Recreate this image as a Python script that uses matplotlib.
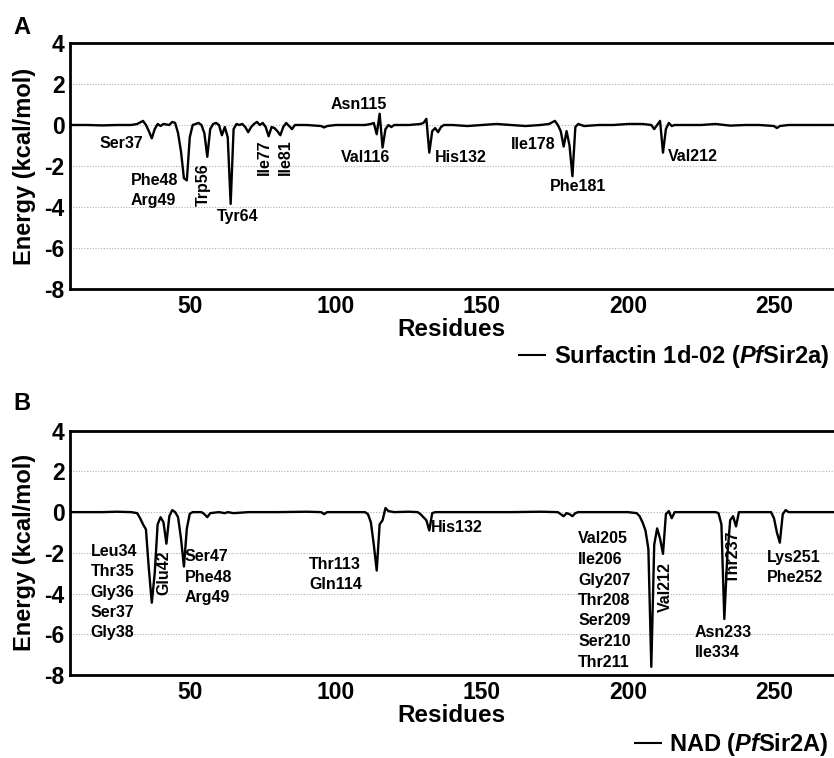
import matplotlib
matplotlib.use("Agg")
import matplotlib.pyplot as plt
from matplotlib.lines import Line2D

plt.rcParams["font.family"] = ["Liberation Sans", "DejaVu Sans"]
plt.rcParams["font.weight"] = "bold"
plt.rcParams["axes.unicode_minus"] = False
plt.rcParams["mathtext.fontset"] = "custom"
plt.rcParams["mathtext.rm"] = "Liberation Sans:bold"
plt.rcParams["mathtext.it"] = "Liberation Sans:italic:bold"
plt.rcParams["mathtext.bf"] = "Liberation Sans:bold"

# Panel A: Surfactin 1d-02 (PfSir2a) per-residue energy
res_a = [9, 15, 20, 25, 30, 32, 34, 35, 36, 37, 38, 39, 40, 41, 43, 44, 45, 46,
         47, 48, 49, 50, 51, 52, 53, 54, 55, 56, 57, 58, 59, 60, 61, 62, 63, 64,
         65, 66, 67, 68, 69, 70, 71, 72, 73, 74, 75, 76, 77, 78, 79, 80, 81, 82,
         83, 84, 85, 86, 90, 95, 96, 97, 100, 105, 110, 112, 113, 114, 115, 116,
         117, 118, 119, 120, 125, 129, 130, 131, 132, 133, 134, 135, 136, 137,
         140, 145, 150, 155, 160, 165, 170, 173, 175, 176, 177, 178, 179, 180,
         181, 182, 183, 185, 190, 195, 200, 205, 208, 209, 210, 211, 212, 213,
         214, 215, 216, 220, 225, 230, 235, 240, 245, 250, 251, 252, 255, 260,
         265, 273]
e_a = [0.0, 0.0, -0.02, 0.0, 0.0, 0.05, 0.2, 0.0, -0.3, -0.65, -0.2, 0.05,
       -0.05, 0.05, 0.0, 0.15, 0.1, -0.4, -1.3, -2.6, -2.7, -0.6, 0.0, 0.05,
       0.1, 0.0, -0.4, -1.55, -0.2, 0.05, 0.1, 0.0, -0.5, -0.1, -0.6, -3.85,
       -0.2, 0.05, 0.0, 0.05, -0.1, -0.35, -0.1, 0.05, 0.15, 0.0, 0.1, -0.1,
       -0.55, -0.1, -0.15, -0.3, -0.5, -0.1, 0.1, -0.05, -0.2, 0.0, 0.0, -0.05,
       -0.12, -0.05, 0.0, 0.0, 0.0, 0.05, 0.1, -0.45, 0.55, -1.1, -0.2, 0.0,
       -0.1, 0.0, 0.0, 0.05, 0.1, 0.3, -1.35, -0.3, -0.15, -0.35, -0.1, 0.0,
       0.0, -0.05, 0.0, 0.05, 0.0, -0.05, 0.0, 0.05, 0.2, 0.0, -0.3, -1.05,
       -0.3, -1.0, -2.5, -0.1, 0.05, -0.05, 0.0, 0.0, 0.05, 0.05, 0.0, -0.2,
       0.0, 0.2, -1.35, -0.2, 0.1, -0.05, 0.0, 0.0, 0.0, 0.05, -0.03, 0.0, 0.0,
       -0.05, -0.15, -0.05, 0.0, 0.0, 0.0, 0.0]

# Panel B: NAD (PfSir2A)
res_b = [9, 15, 20, 25, 30, 32, 33, 34, 35, 36, 37, 38, 39, 40, 41, 42, 43, 44,
         45, 46, 47, 48, 49, 50, 51, 54, 55, 56, 57, 60, 62, 63, 65, 70, 80, 90,
         95, 96, 97, 100, 105, 110, 111, 112, 113, 114, 115, 116, 117, 118, 120,
         125, 128, 129, 130, 131, 132, 133, 134, 140, 150, 160, 170, 176, 177,
         178, 179, 180, 181, 182, 183, 190, 200, 203, 204, 205, 206, 207, 208,
         209, 210, 211, 212, 213, 214, 215, 216, 220, 225, 230, 231, 232, 233,
         234, 235, 236, 237, 238, 240, 245, 249, 250, 251, 252, 253, 254, 255,
         260, 265, 273]
e_b = [0.0, 0.0, 0.0, 0.02, 0.0, -0.05, -0.3, -0.6, -0.85, -2.8, -4.45, -3.0,
       -0.6, -0.25, -0.5, -1.55, -0.2, 0.1, 0.0, -0.25, -1.3, -2.67, -0.8,
       -0.08, 0.0, 0.0, -0.1, -0.25, -0.05, 0.0, -0.05, 0.0, -0.05, 0.0, 0.0,
       0.02, 0.0, -0.1, 0.0, 0.0, 0.0, 0.0, -0.1, -0.5, -1.6, -2.87, -0.6,
       -0.4, 0.2, 0.05, 0.0, 0.02, 0.0, -0.1, -0.25, -0.4, -0.9, -0.05, 0.0,
       0.0, 0.0, 0.0, 0.02, 0.0, -0.1, -0.2, -0.05, -0.1, -0.2, -0.05, 0.0,
       0.0, 0.0, -0.05, -0.2, -0.5, -0.9, -1.8, -7.6, -1.6, -0.8, -1.3, -2.05,
       -0.1, 0.05, -0.3, 0.0, 0.0, 0.0, 0.0, -0.05, -0.6, -5.25, -2.2, -0.4,
       -0.2, -0.7, 0.0, 0.0, 0.0, 0.0, -0.3, -1.0, -1.5, -0.1, 0.1, 0.0, 0.0,
       0.0, 0.0]

# residue annotations: (text, x, y, rotation, ha)
labels_a = [
    ("Ser37", 26.6, -0.9, 0, "center"),
    ("Phe48", 37.8, -2.73, 0, "center"),
    ("Arg49", 37.4, -3.7, 0, "center"),
    ("Trp56", 54.6, -2.93, 90, "center"),
    ("Tyr64", 66.5, -4.44, 0, "center"),
    ("Ile77", 75.5, -1.55, 90, "center"),
    ("Ile81", 82.9, -1.55, 90, "center"),
    ("Asn115", 107.9, 0.98, 0, "center"),
    ("Val116", 110.2, -1.6, 0, "center"),
    ("His132", 142.8, -1.6, 0, "center"),
    ("Ile178", 167.4, -0.93, 0, "center"),
    ("Phe181", 182.8, -2.98, 0, "center"),
    ("Val212", 222.4, -1.55, 0, "center"),
]
labels_b = [
    ("Leu34", 16.0, -1.93, 0, "left"),
    ("Thr35", 16.0, -2.92, 0, "left"),
    ("Gly36", 16.0, -3.93, 0, "left"),
    ("Ser37", 16.0, -4.91, 0, "left"),
    ("Gly38", 16.0, -5.93, 0, "left"),
    ("Glu42", 41.2, -2.95, 90, "center"),
    ("Ser47", 48.3, -2.18, 0, "left"),
    ("Phe48", 48.3, -3.19, 0, "left"),
    ("Arg49", 48.3, -4.18, 0, "left"),
    ("Thr113", 90.9, -2.57, 0, "left"),
    ("Gln114", 90.9, -3.55, 0, "left"),
    ("His132", 132.6, -0.77, 0, "left"),
    ("Val205", 183.0, -1.31, 0, "left"),
    ("Ile206", 183.0, -2.32, 0, "left"),
    ("Gly207", 183.0, -3.36, 0, "left"),
    ("Thr208", 183.0, -4.34, 0, "left"),
    ("Ser209", 183.0, -5.32, 0, "left"),
    ("Ser210", 183.0, -6.35, 0, "left"),
    ("Thr211", 183.0, -7.37, 0, "left"),
    ("Val212", 212.7, -3.68, 90, "center"),
    ("Asn233", 222.9, -5.9, 0, "left"),
    ("Ile334", 222.9, -6.91, 0, "left"),
    ("Thr237", 236.1, -2.21, 90, "center"),
    ("Lys251", 247.5, -2.21, 0, "left"),
    ("Phe252", 247.5, -3.19, 0, "left"),
]

yticks = [4, 2, 0, -2, -4, -6, -8]
xticks = [50, 100, 150, 200, 250]

W, H = 834, 758
fig = plt.figure(figsize=(W / 100, H / 100), dpi=100)


def panel(top_px, bot_px, res, en, labels, legend_label, legend_y, letter, letter_y):
    left_px, right_px = 70, 840
    ax = fig.add_axes([left_px / W, 1 - bot_px / H, (right_px - left_px) / W,
                       (bot_px - top_px) / H])
    for g in [2, 0, -2, -4, -6]:
        ax.axhline(g, color="#b0b0b0", lw=0.8, ls=(0, (1, 1.5)), zorder=0)
    ax.plot(res, en, color="black", lw=1.7, zorder=3)
    ax.set_xlim(9, 272.6)
    ax.set_ylim(-8, 4)
    ax.set_xticks(xticks)
    ax.set_yticks(yticks)
    ax.tick_params(length=0, labelsize=16.5)
    ax.tick_params(axis="x", pad=4)
    ax.tick_params(axis="y", pad=4)
    for t in ax.get_xticklabels() + ax.get_yticklabels():
        t.set_fontweight("bold")
    for s in ("left", "bottom", "top"):
        ax.spines[s].set_linewidth(2.0)
    ax.spines["right"].set_visible(False)
    ax.set_ylabel("Energy (kcal/mol)", fontsize=17, fontweight="bold")
    ax.set_xlabel("Residues", fontsize=17.5, fontweight="bold")
    hpx = bot_px - top_px
    ax.yaxis.set_label_coords((25 - left_px) / (right_px - left_px), 0.5)
    ax.yaxis.label.set_va("center")
    ax.xaxis.set_label_coords(0.495, -41 / hpx)
    ax.xaxis.label.set_va("center")
    for txt, x, y, rot, ha in labels:
        ax.text(x, y, txt, fontsize=11.5, fontweight="bold", rotation=rot,
                ha=ha, va="center", zorder=4)
    h = Line2D([], [], color="black", lw=1.5)
    fig.legend([h], [legend_label], loc="center right",
               bbox_to_anchor=(829 / W, 1 - legend_y / H), frameon=False,
               fontsize=17, handlelength=1.1, handletextpad=0.35,
               borderpad=0, borderaxespad=0)
    fig.text(22 / W, 1 - letter_y / H, letter, fontsize=17, fontweight="bold",
             ha="center", va="center")
    return ax


panel(43, 289, res_a, e_a, labels_a,
      r"Surfactin 1d-02 ($\mathit{Pf}$Sir2a)", 357, "A", 27)
panel(430.7, 675, res_b, e_b, labels_b,
      r"NAD ($\mathit{Pf}$Sir2A)", 745, "B", 403)

fig.savefig("out.png", dpi=100, facecolor="white")
